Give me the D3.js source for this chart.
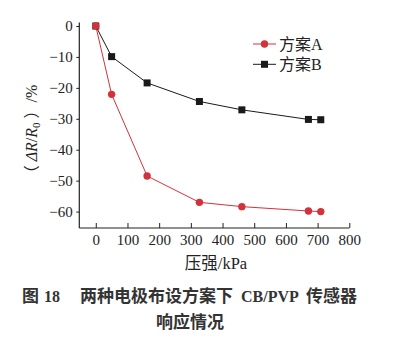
<!DOCTYPE html>
<html><head><meta charset="utf-8">
<script src="https://cdn.jsdelivr.net/npm/d3@7/dist/d3.min.js"></script>
<style>
html,body{margin:0;padding:0;background:#fff;}
svg{display:block;}
</style></head>
<body>
<svg id="chart" width="418" height="340"></svg>
<script>
const pressure = [0, 50, 162, 327, 461, 671, 710];
const schemeA = [0, -22.1, -48.5, -57.0, -58.4, -59.8, -60.0];
const schemeB = [0, -9.9, -18.4, -24.4, -27.1, -30.2, -30.3];
const xTicks = [0, 100, 200, 300, 400, 500, 600, 700, 800];
const yTicks = [0, -10, -20, -30, -40, -50, -60];
const seriesNames = ["方案A", "方案B"];
const seriesColors = ["#d2323a", "#1a1a1a"];

const svg = d3.select("#chart");
const serif = "Liberation Serif, Noto Sans CJK SC, serif";

const x = d3.scaleLinear().domain([-52, 800]).range([79.3, 349.3]);
const y = d3.scaleLinear().domain([-65.3, 1.1]).range([228, 22.6]);

// axes
const gx = svg.append("g").attr("transform", `translate(0,${y(-65.3)})`)
  .call(d3.axisBottom(x).tickValues(xTicks).tickSizeInner(-5).tickSizeOuter(0).tickPadding(6).tickFormat(d3.format("d")));
gx.attr("font-family", null).attr("font-size", null);
gx.select(".domain").remove();
gx.selectAll("text").style("font-family", serif).style("font-size", "15px").attr("fill", "#222");
gx.selectAll("line").attr("stroke", "#222");

const gy = svg.append("g").attr("transform", `translate(${x(-52)},0)`)
  .call(d3.axisLeft(y).tickValues(yTicks).tickSizeInner(3).tickSizeOuter(0).tickPadding(3.5));
gy.attr("font-family", null).attr("font-size", null);
gy.select(".domain").remove();
gy.selectAll("text").style("font-family", serif).style("font-size", "15px").attr("fill", "#222");
gy.selectAll("line").attr("stroke", "#222");

// axis lines
svg.append("line").attr("x1", x(-52)).attr("x2", x(800)).attr("y1", y(-65.3)).attr("y2", y(-65.3)).attr("stroke", "#222").attr("stroke-width", 1.2);
svg.append("line").attr("x1", x(-52)).attr("x2", x(-52)).attr("y1", y(-65.3)).attr("y2", y(1.1)).attr("stroke", "#222").attr("stroke-width", 1.2);

// lines
const line = d3.line().x((d, i) => x(pressure[i])).y(d => y(d));
svg.append("path").datum(schemeB).attr("d", line).attr("fill", "none").attr("stroke", seriesColors[1]).attr("stroke-width", 1);
svg.append("path").datum(schemeA).attr("d", line).attr("fill", "none").attr("stroke", seriesColors[0]).attr("stroke-width", 1);
// markers B (squares)
svg.append("g").selectAll("rect").data(schemeB).join("rect")
  .attr("x", (d, i) => x(pressure[i]) - 3.5).attr("y", d => y(d) - 3.5)
  .attr("width", 7).attr("height", 7).attr("fill", seriesColors[1]);
// markers A (circles)
svg.append("g").selectAll("circle").data(schemeA).join("circle")
  .attr("cx", (d, i) => x(pressure[i])).attr("cy", d => y(d)).attr("r", 3.7).attr("fill", seriesColors[0]);

// legend
const legY = [44, 64.3];
seriesNames.forEach((n, i) => {
  const g = svg.append("g");
  g.append("line").attr("x1", 253).attr("x2", 276).attr("y1", legY[i]).attr("y2", legY[i]).attr("stroke", seriesColors[i]).attr("stroke-width", 1);
  if (i === 0) g.append("circle").attr("cx", 264.5).attr("cy", legY[i]).attr("r", 3.7).attr("fill", seriesColors[i]);
  else g.append("rect").attr("x", 261).attr("y", legY[i] - 3.5).attr("width", 7).attr("height", 7).attr("fill", seriesColors[i]);
  g.append("text").attr("x", 279).attr("y", legY[i] + 5.5).style("font-family", serif).style("font-size", "16px").attr("fill", "#222").text(n);
});

// y label
const yl = svg.append("text").attr("transform", "translate(37,133) rotate(-90)")
  .attr("text-anchor", "middle").style("font-family", serif).style("font-size", "16px").attr("fill", "#222")
  .attr("xml:space", "preserve");
yl.append("tspan").text("（ ");
yl.append("tspan").attr("font-style", "italic").text("ΔR");
yl.append("tspan").text("/");
yl.append("tspan").attr("font-style", "italic").text("R");
yl.append("tspan").style("font-size", "11px").attr("dy", 3).text("0");
yl.append("tspan").attr("dy", -3).text(" ）/%");

// x label
svg.append("text").attr("x", 216).attr("y", 269).attr("text-anchor", "middle")
  .style("font-family", serif).style("font-size", "16.5px").attr("fill", "#222").text("压强/kPa");

// caption
const cap = svg.append("text").attr("y", 302).style("font-family", serif).attr("font-weight", "bold").attr("fill", "#333");
cap.append("tspan").attr("x", 22).style("font-size", "17px").text("图");
cap.append("tspan").attr("x", 44).style("font-size", "16px").text("18");
cap.append("tspan").attr("x", 80).style("font-size", "17px").text("两种电极布设方案下");
cap.append("tspan").attr("x", 241).style("font-size", "16px").text("CB/PVP");
cap.append("tspan").attr("x", 306).style("font-size", "17px").text("传感器");
svg.append("text").attr("x", 190).attr("y", 327.5).attr("text-anchor", "middle").style("font-family", serif).attr("font-weight", "bold")
  .style("font-size", "17px").attr("fill", "#333").text("响应情况");
</script>
</body></html>
